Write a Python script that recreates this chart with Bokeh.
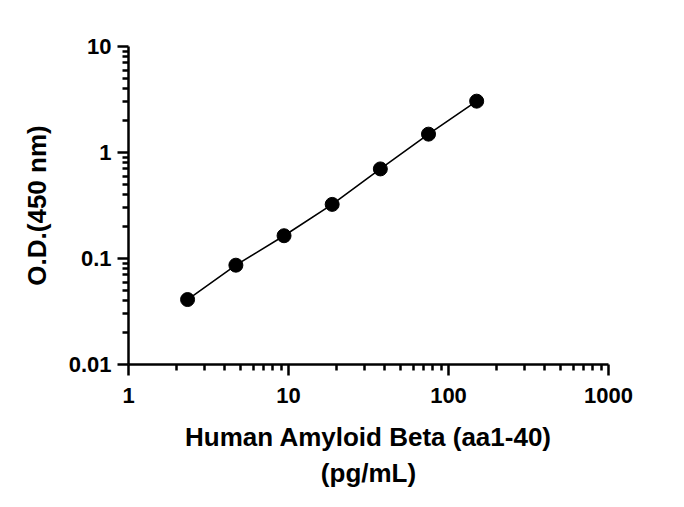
from bokeh.plotting import figure
from bokeh.models import FixedTicker, Range1d
from bokeh.embed import file_html
from bokeh.resources import INLINE

# data
conc = [2.34, 4.69, 9.38, 18.75, 37.5, 75, 150]
od = [0.041, 0.0865, 0.164, 0.324, 0.70, 1.49, 3.05]
x_ticks = [1, 10, 100, 1000]
y_ticks = [0.01, 0.1, 1, 10]
x_title = "Human Amyloid Beta (aa1-40)\n(pg/mL)"
y_title = "O.D.(450 nm)"

def minors(majors):
    return [m * k for m in majors[:-1] for k in range(2, 10)]

p = figure(width=668, height=490, x_axis_type="log", y_axis_type="log",
           x_range=Range1d(1, 1000), y_range=Range1d(0.01, 10),
           output_backend="svg", toolbar_location=None,
           min_border_left=128, min_border_right=60,
           min_border_top=46, min_border_bottom=126)
p.outline_line_color = None
p.grid.visible = False
p.background_fill_color = "white"
p.border_fill_color = "white"

p.line(conc, od, line_color="black", line_width=1.6)
p.scatter(conc, od, size=14, fill_color="black", line_color="black")

p.xaxis.ticker = FixedTicker(ticks=x_ticks, minor_ticks=minors(x_ticks))
p.yaxis.ticker = FixedTicker(ticks=y_ticks, minor_ticks=minors(y_ticks))
p.xaxis.major_label_overrides = {1: "1", 10: "10", 100: "100", 1000: "1000"}
p.yaxis.major_label_overrides = {0.01: "0.01", 0.1: "0.1", 1: "1", 10: "10"}

for ax in (p.xaxis, p.yaxis):
    ax.axis_line_width = 2.5
    ax.axis_line_color = "black"
    ax.major_tick_line_width = 2.5
    ax.minor_tick_line_width = 2.5
    ax.major_tick_line_color = "black"
    ax.minor_tick_line_color = "black"
    ax.major_tick_out = 11
    ax.major_tick_in = 0
    ax.minor_tick_out = 6
    ax.minor_tick_in = 0
    ax.major_label_text_font = "Liberation Sans"
    ax.major_label_text_font_style = "bold"
    ax.major_label_text_font_size = "22px"
    ax.major_label_text_color = "black"
    ax.axis_label_text_font = "Liberation Sans"
    ax.axis_label_text_font_style = "bold"
    ax.axis_label_text_font_size = "26px"
    ax.axis_label_text_color = "black"

p.xaxis.major_label_standoff = 12
p.yaxis.major_label_standoff = 6
p.xaxis.axis_label = x_title
p.yaxis.axis_label = y_title
p.xaxis.axis_label_standoff = 16
p.yaxis.axis_label_standoff = 14

open("out.html", "w").write(file_html(p, INLINE))
